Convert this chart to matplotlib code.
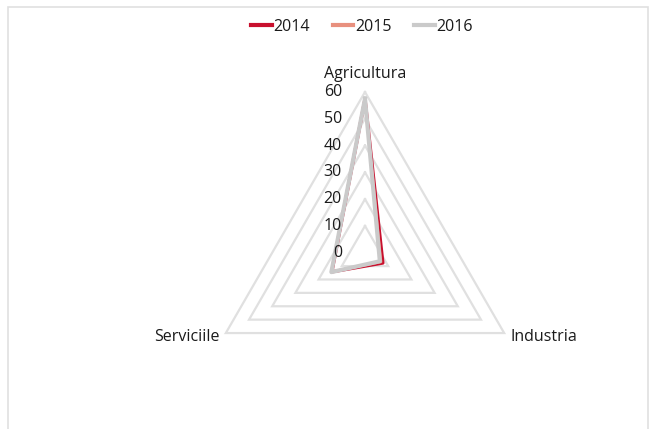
import numpy as np
import matplotlib
matplotlib.use("Agg")
import matplotlib.pyplot as plt
from matplotlib.patches import Rectangle
from matplotlib.lines import Line2D

categories = ["Agricultura", "Industria", "Serviciile"]
years = ["2014", "2015", "2016"]
values_2014 = [57.3, 7.7, 14.3]
values_2015 = [57.5, 7.0, 14.4]
values_2016 = [57.5, 6.4, 14.5]
ring_values = [0, 10, 20, 30, 40, 50, 60]
ring_labels = ["0", "10", "20", "30", "40", "50", "60"]

colors = ["#C8102E", "#E8907E", "#CACACA"]
widths = [2.4, 1.6, 3.0]
grid_color = "#E0E0E0"

plt.rcParams['font.family'] = ['Open Sans', 'DejaVu Sans']

W, H = 652, 429
fig = plt.figure(figsize=(W / 100, H / 100), dpi=100)

# outer frame
fig.patches.append(Rectangle((8 / W, -0.01), (648 - 8) / W, (H - 7) / H + 0.01,
                             transform=fig.transFigure, fill=False,
                             edgecolor=grid_color, linewidth=1.2))

cx, cy, R = 365, 252.7, 160.7
ax = fig.add_axes([(cx - R) / W, (H - cy - R) / H, 2 * R / W, 2 * R / H], polar=True)
ax.set_theta_offset(np.pi / 2)
ax.set_theta_direction(-1)
ax.set_ylim(0, 60)
ax.grid(False)
ax.spines['polar'].set_visible(False)
ax.set_xticks([])
ax.set_yticks([])
ax.patch.set_alpha(0)

n = len(categories)
theta = np.arange(n) * 2 * np.pi / n
theta_c = np.concatenate([theta, theta[:1]])

for rv in ring_values[1:]:
    ax.plot(theta_c, [rv] * (n + 1), color=grid_color, linewidth=1.6, zorder=1,
            clip_on=False, solid_joinstyle='miter')

series = [values_2014, values_2015, values_2016]
for vals, col, lw, yr in zip(series, colors, widths, years):
    v = list(vals) + [vals[0]]
    ax.plot(theta_c, v, color=col, linewidth=lw, zorder=3, clip_on=False,
            solid_joinstyle='round')

txt_color = '#1A1A1A'
for rv, lab in zip(ring_values, ring_labels):
    ax.annotate(lab, xy=(0, rv), xytext=(-23, 0), textcoords='offset pixels',
                ha='right', va='center', fontsize=11.5, color=txt_color,
                annotation_clip=False, zorder=5)

offsets = [((0, 18), 'center'), ((6, -4), 'left'), ((-6, -4), 'right')]
for t, lab, (off, ha) in zip(theta, categories, offsets):
    ax.annotate(lab, xy=(t, 60), xytext=off, textcoords='offset pixels',
                ha=ha, va='center', fontsize=11.5, color=txt_color,
                annotation_clip=False)

handles = [Line2D([], [], color=c, linewidth=3.0) for c in colors]
fig.legend(handles, years, loc='center', bbox_to_anchor=(362 / W, 1 - 27 / H),
           ncol=3, frameon=False, fontsize=11.5, handlelength=1.3,
           handletextpad=0.1, columnspacing=1.4, labelcolor=txt_color)

fig.savefig("out.png", dpi=100)
